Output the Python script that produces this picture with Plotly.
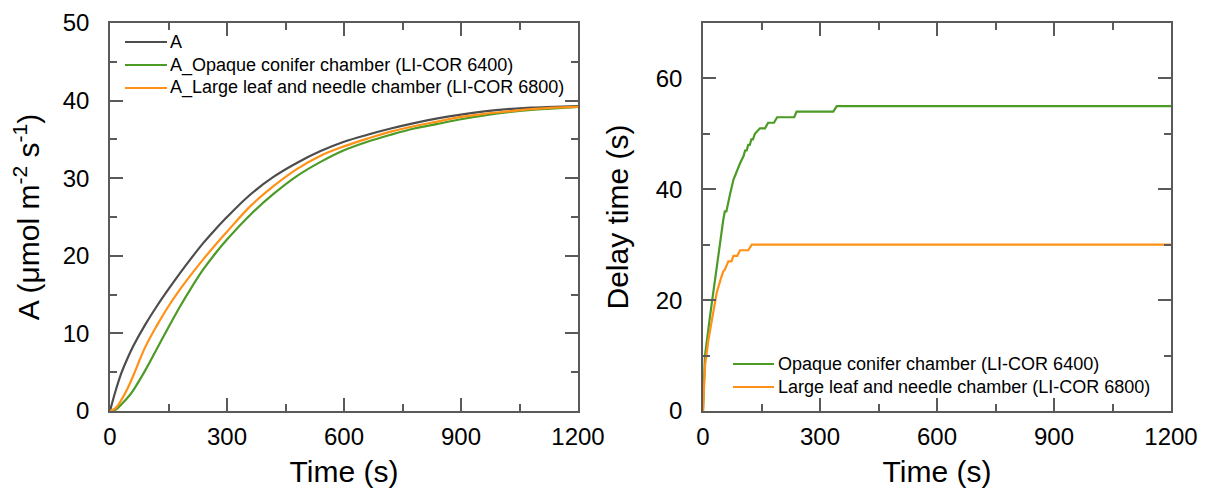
import plotly.graph_objects as go

# ---- Left panel: net assimilation rate vs time ----
time_a = [0, 15, 30, 45, 60, 90, 120, 150, 180, 210, 240, 270, 300, 360, 420, 480,
          540, 600, 660, 720, 780, 840, 900, 960, 1020, 1080, 1140, 1200]
a_true = [0, 2.7, 5.0, 6.8, 8.4, 11.1, 13.5, 15.7, 17.8, 19.8, 21.7, 23.4, 25.0, 27.9, 30.2, 32.0,
          33.5, 34.7, 35.6, 36.4, 37.1, 37.7, 38.2, 38.6, 38.9, 39.1, 39.2, 39.3]
a_6400 = [0, 0.2, 0.9, 1.7, 2.7, 5.2, 8.0, 10.8, 13.5, 16.0, 18.3, 20.3, 22.1, 25.3, 28.0, 30.3,
          32.1, 33.6, 34.7, 35.6, 36.4, 37.0, 37.6, 38.1, 38.5, 38.8, 39.0, 39.2]
a_6800 = [0, 0.4, 1.5, 2.9, 4.6, 8.2, 11.0, 13.5, 15.7, 17.7, 19.6, 21.4, 23.1, 26.4, 29.0, 31.2,
          32.9, 34.1, 35.1, 36.0, 36.7, 37.3, 37.9, 38.3, 38.6, 38.9, 39.1, 39.2]

# ---- Right panel: delay time vs time ----
time_d6400 = [0, 5, 18, 31, 44, 52, 56, 60, 69, 78, 95, 104, 108, 112, 116, 120, 124, 128,
              133, 140, 146, 159, 167, 182, 190, 234, 240, 334, 343, 1200]
delay_6400 = [0, 9.9, 17.1, 23.7, 30.9, 34.5, 36, 36, 39, 41.7, 44.7, 46, 47, 47, 48, 48, 49, 49,
              50, 50.5, 51, 51, 52, 52, 53, 53, 54, 54, 55, 55]
time_d6800 = [0, 5, 14, 25, 35, 45, 52, 56, 59, 63, 65, 73, 76, 78, 88, 91, 95, 116, 125, 1200]
delay_6800 = [0, 8.1, 12.9, 17.7, 21.3, 23.7, 25.2, 25.5, 26.1, 26.5, 27, 27, 27.5, 28, 28, 28.5,
              29, 29, 30, 30]

x_ticks = [0, 300, 600, 900, 1200]

GRAY = "#4d4d4d"
GREEN = "#4b9b26"
ORANGE = "#ff9116"
AXIS = "#5a5a5a"
FONT = "Liberation Sans, Arial, sans-serif"
W, H = 1208, 491

left_series = [
    ("A", a_true, GRAY),
    ("A_Opaque conifer chamber (LI-COR 6400)", a_6400, GREEN),
    ("A_Large leaf and needle chamber (LI-COR 6800)", a_6800, ORANGE),
]
right_series = [
    ("Opaque conifer chamber (LI-COR 6400)", time_d6400, delay_6400, GREEN),
    ("Large leaf and needle chamber (LI-COR 6800)", time_d6800, delay_6800, ORANGE),
]

fig = go.Figure()

for name, vals, color in left_series:
    fig.add_trace(go.Scatter(x=time_a, y=vals, mode="lines", name=name, showlegend=False,
                             line=dict(color=color, width=2.2, shape="spline", smoothing=1.0),
                             xaxis="x", yaxis="y"))
for name, tx, vals, color in right_series:
    fig.add_trace(go.Scatter(x=tx, y=vals, mode="lines", name=name, showlegend=False,
                             line=dict(color=color, width=2.2),
                             xaxis="x2", yaxis="y2"))


# Legend keys drawn as short line samples with labels beside them
def legend_block(entries, x_line0, x_line1, x_text, y_first, row_gap):
    for i, (label, color) in enumerate(entries):
        yp = 1 - (y_first + i * row_gap) / H
        fig.add_shape(type="line", xref="paper", yref="paper",
                      x0=x_line0 / W, x1=x_line1 / W, y0=yp, y1=yp,
                      line=dict(color=color, width=2.2))
        fig.add_annotation(xref="paper", yref="paper", x=x_text / W, y=yp,
                           xanchor="left", yanchor="middle", showarrow=False,
                           text=label, font=dict(family=FONT, size=18, color="#000"))


legend_block([(n, c) for n, _, c in left_series], 125, 167, 168, 42, 23)
legend_block([(n, c) for n, _, _, c in right_series], 733, 774, 776, 364, 23)


def minor_ticks(step):
    return dict(dtick=step, tick0=0, ticks="inside", ticklen=7, tickwidth=1.5, tickcolor=AXIS)


def axis_style(**kw):
    base = dict(
        showline=True, linecolor=AXIS, linewidth=1.5, mirror="allticks",
        ticks="inside", ticklen=13, tickwidth=1.5, tickcolor=AXIS,
        showgrid=False, zeroline=False, automargin=False,
        tickfont=dict(family=FONT, size=24, color="#000"),
        title_font=dict(family=FONT, size=30, color="#000"),
    )
    base.update(kw)
    return base


y_dom = [1 - 411 / H, 1 - 23 / H]

fig.update_layout(
    width=W, height=H,
    margin=dict(l=0, r=0, t=0, b=0),
    paper_bgcolor="white", plot_bgcolor="white",
    font=dict(family=FONT, color="#000"),
    showlegend=False,
    xaxis=axis_style(domain=[110 / W, 578 / W], range=[0, 1200], tickvals=x_ticks,
                     minor=minor_ticks(150), ticklabelstandoff=3,
                     title=dict(text="Time (s)", standoff=12), anchor="y"),
    yaxis=axis_style(domain=y_dom, range=[0, 50], dtick=10, minor=minor_ticks(5),
                     ticklabelstandoff=14,
                     title=dict(text="A (μmol m<sup>-2</sup> s<sup>-1</sup>)", standoff=14),
                     anchor="x"),
    xaxis2=axis_style(domain=[703 / W, 1171 / W], range=[0, 1200], tickvals=x_ticks,
                      minor=minor_ticks(150), ticklabelstandoff=3,
                      title=dict(text="Time (s)", standoff=12), anchor="y2"),
    yaxis2=axis_style(domain=y_dom, range=[0, 70], dtick=20, minor=minor_ticks(10),
                      ticklabelstandoff=14,
                      title=dict(text="Delay time (s)", standoff=18), anchor="x2"),
)

fig.write_html("out.html")
